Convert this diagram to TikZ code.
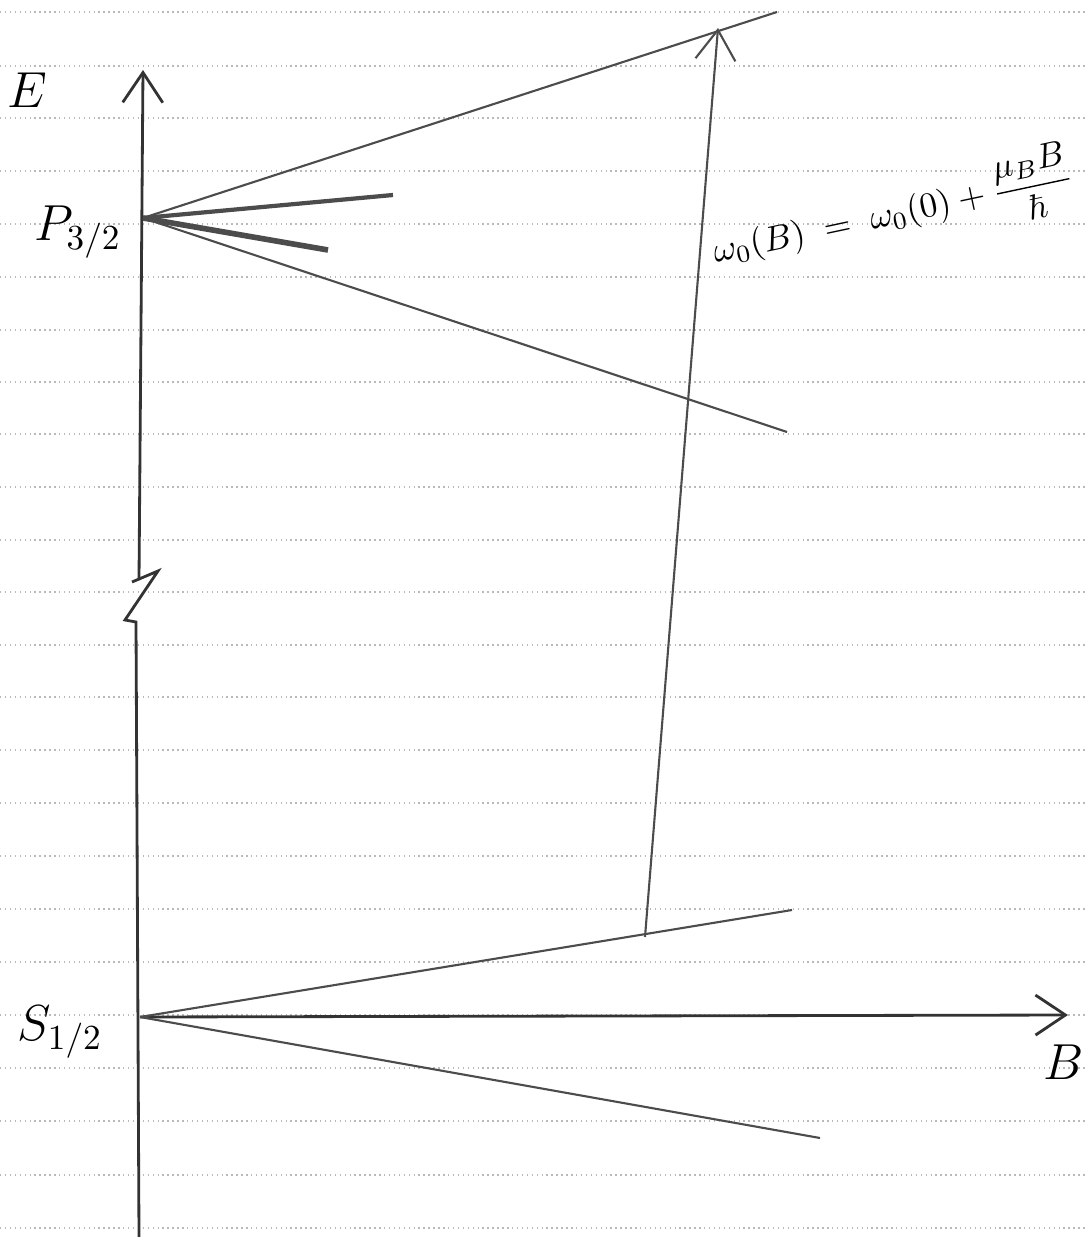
\documentclass[tikz,border=0pt]{standalone}
\usepackage{amsmath}
\usepackage{amssymb}
\usetikzlibrary{arrows.meta,positioning}

\begin{document}
\begin{tikzpicture}[
  x=0.01cm, y=-0.01cm,
  rule/.style={gray!55, densely dotted, line width=0.4pt},
  axis/.style={gray!40!black, line width=0.8pt},
  level/.style={gray!60!black, line width=0.6pt},
  lbl/.style={inner sep=0pt, font=\Large}
]
  \useasboundingbox (0,0) rectangle (1086,1237);

  % ruled paper
  \foreach \yy in {12,66,118,171,224,277,330,382,434,487,540,592,645,697,750,803,856,909,962,1015,1068,1121,1175,1228}
    \draw[rule] (0,\yy) -- (1086,\yy);

  % anchor points
  \coordinate (P) at (143,218);
  \coordinate (S) at (140,1017);
  \coordinate (Etop) at (143,70);
  \coordinate (Ebot) at (139,1237);
  \coordinate (Bend) at (1068,1015);
  \coordinate (brkA) at (136,622);
  \coordinate (brkB) at (125,620);
  \coordinate (brkC) at (158,571);
  \coordinate (brkD) at (132,582);
  \coordinate (brkE) at (139,580);

  % energy axis with break
  \draw[axis] (Ebot) -- (brkA) -- (brkB) -- (brkC) -- (brkD);
  \draw[axis, -{Straight Barb[length=3mm,width=4mm]}] (brkE) -- (Etop);
  % field axis
  \draw[axis, -{Straight Barb[length=3mm,width=4mm]}] (S) -- (Bend);

  % P_{3/2} levels
  \coordinate (p1) at (777,12);
  \coordinate (p2) at (393,195);
  \coordinate (p3) at (328,250);
  \coordinate (p4) at (787,432);
  \draw[level] (P) -- (p1);
  \draw[level, line width=1.2pt] (P) -- (p2);
  \draw[level, line width=1.6pt] (P) -- (p3);
  \draw[level] (P) -- (p4);

  % S_{1/2} levels
  \coordinate (s1) at (792,910);
  \coordinate (s2) at (820,1138);
  \draw[level] (S) -- (s1);
  \draw[level] (S) -- (s2);

  % transition
  \coordinate (lo) at (645,937);
  \coordinate (hi) at (718,28);
  \draw[level, -{Straight Barb[length=3mm,width=4mm]}] (lo) -- (hi);

  % labels
  \node[lbl] (Elbl) at (27,90) {$E$};
  \node[lbl] (Plbl) at (78,232) {$P_{3/2}$};
  \node[lbl] (Slbl) at (60,1032) {$S_{1/2}$};
  \node[lbl] (Blbl) at (1064,1062) {$B$};
  \node[lbl, rotate=12, font=\normalsize] (eq) at (893,213)
    {$\omega_0(B) \;=\; \omega_0(0) + \dfrac{\mu_B B}{\hbar}$};
\end{tikzpicture}
\end{document}
